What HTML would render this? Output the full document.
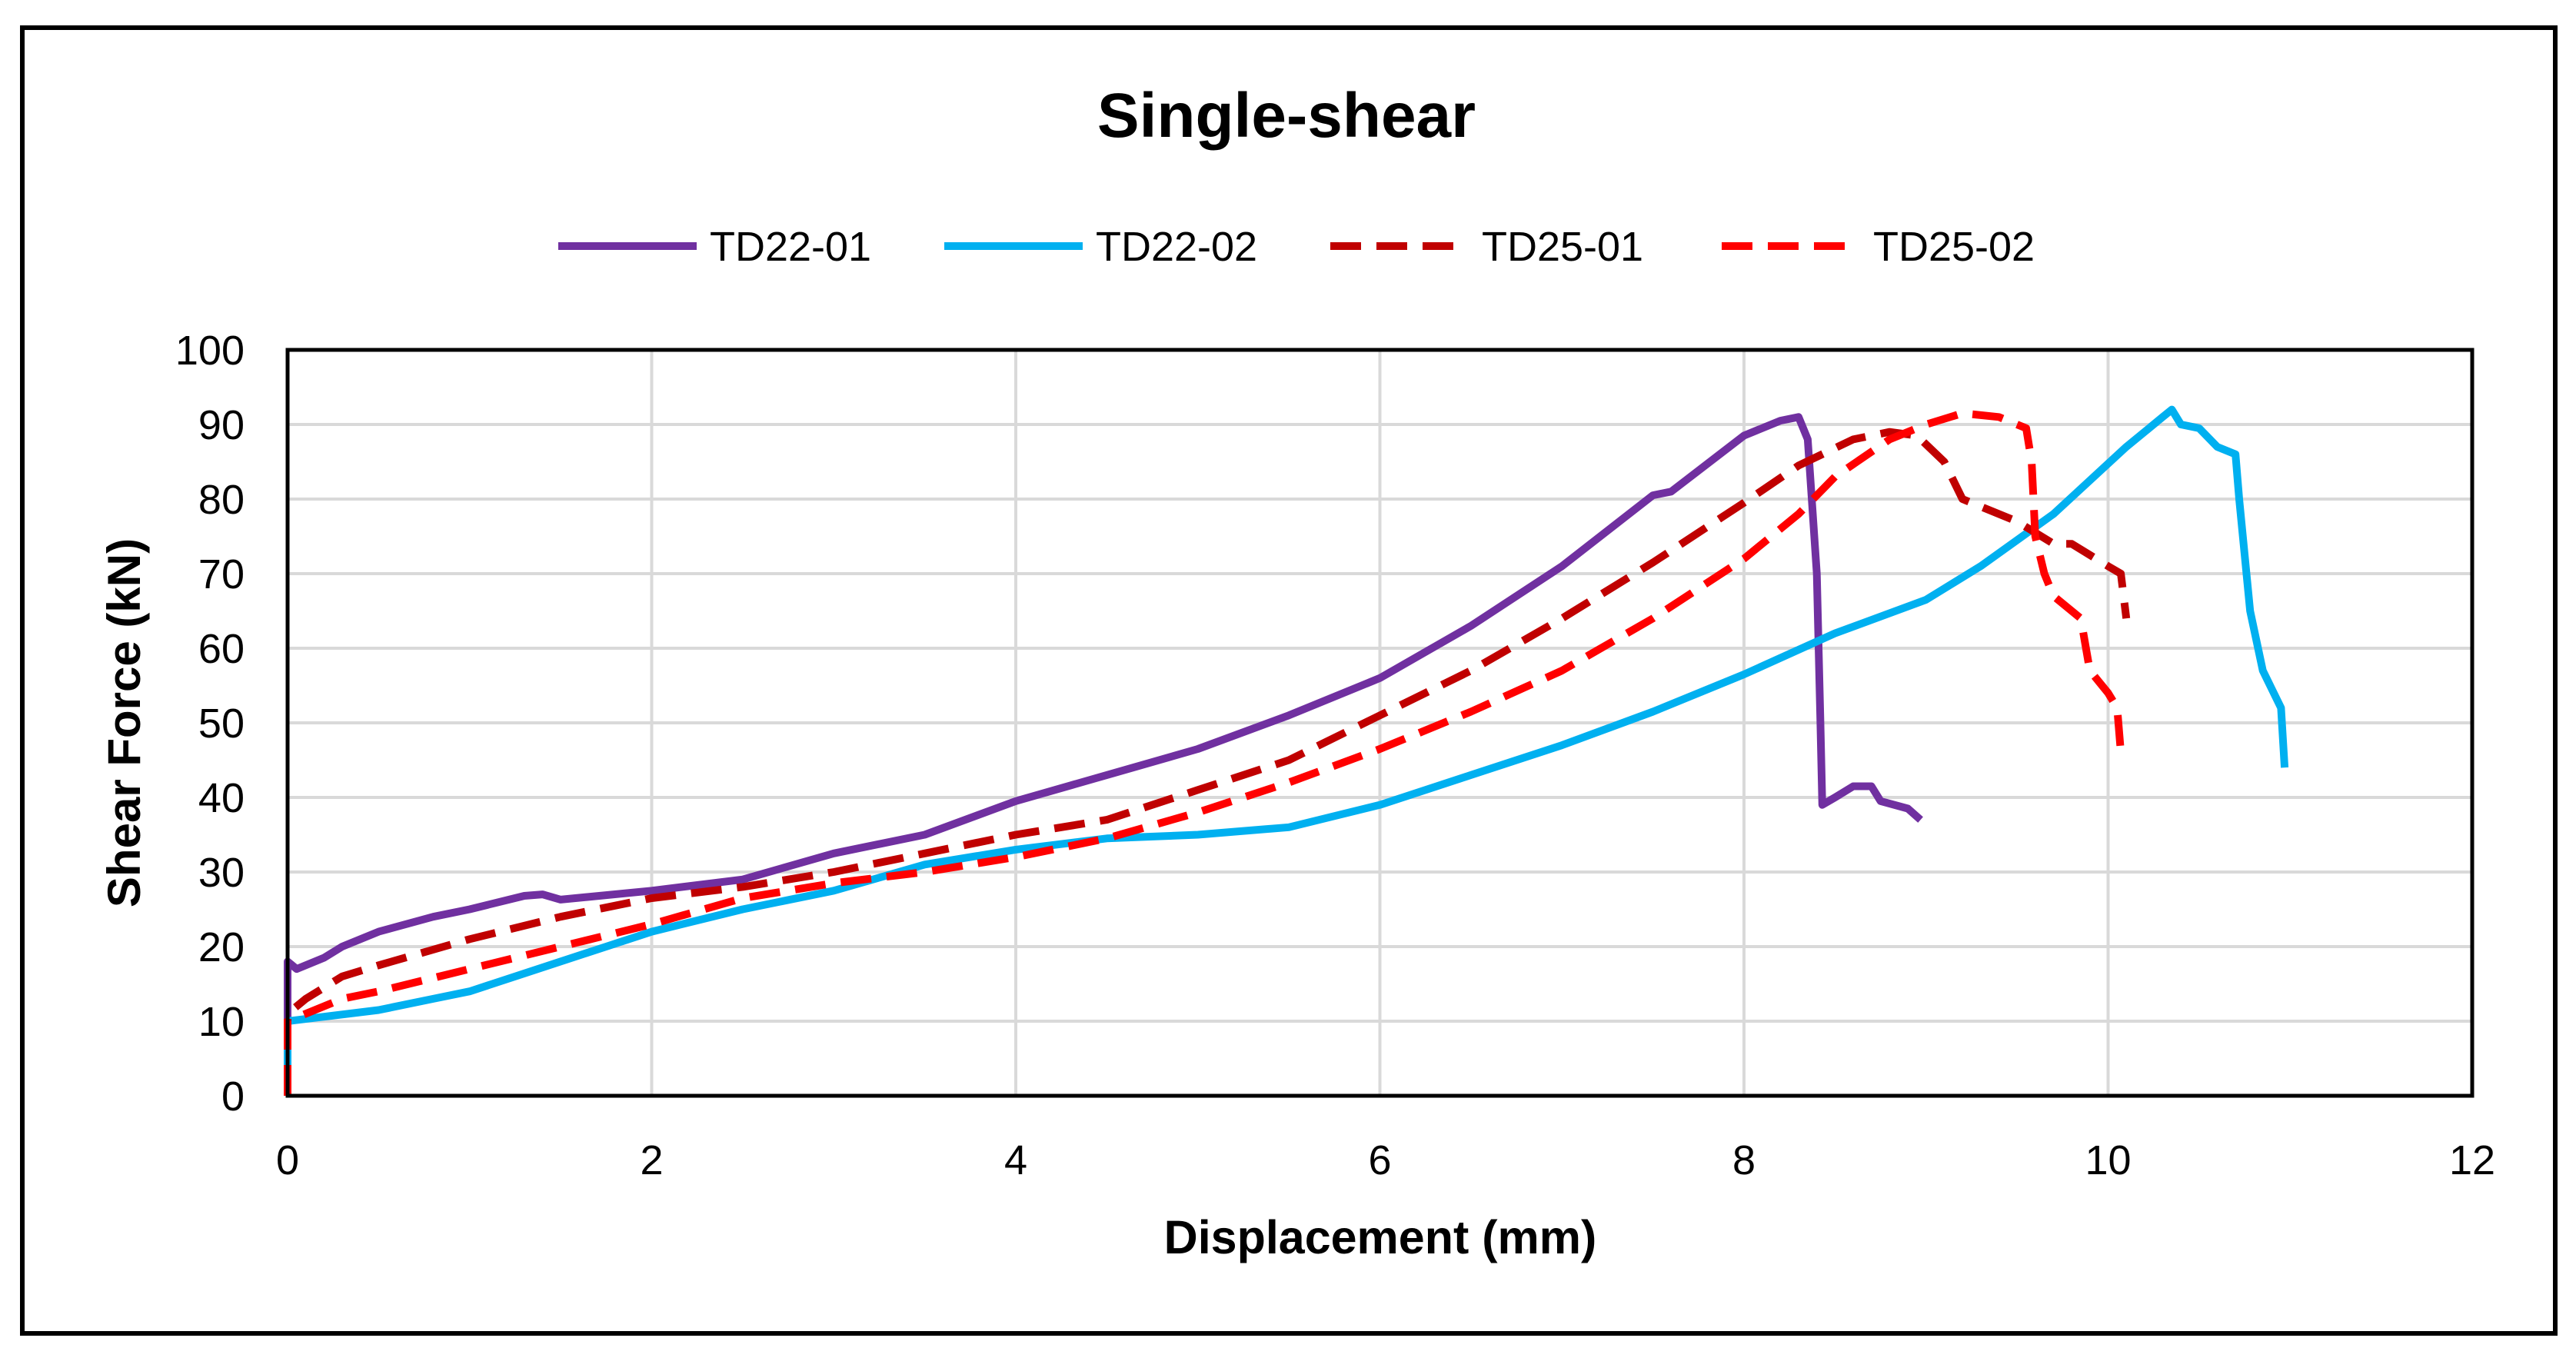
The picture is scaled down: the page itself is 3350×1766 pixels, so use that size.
<!DOCTYPE html>
<html><head><meta charset="utf-8"><style>
body{margin:0;background:#fff}
svg{display:block;font-family:"Liberation Sans",Calibri,sans-serif}
</style></head><body>
<svg id="chart" width="3350" height="1766" viewBox="0 0 3350 1766">
<rect x="0" y="0" width="3350" height="1766" fill="#fff"/>
<rect x="29" y="36" width="3294" height="1698" fill="none" stroke="#000" stroke-width="6"/>
<text x="1673" y="178" text-anchor="middle" font-size="82" font-weight="bold">Single-shear</text>
<g id="legend"></g>
<g id="grid"></g>
<g id="series"></g>
<rect x="374" y="455" width="2841" height="970" fill="none" stroke="#000" stroke-width="5"/>
<g id="ticks"></g>
<text x="1795" y="1630" text-anchor="middle" font-size="61" font-weight="bold">Displacement (mm)</text>
<text transform="translate(182,940) rotate(-90)" text-anchor="middle" font-size="60" font-weight="bold">Shear Force (kN)</text>
</svg>
<script>
const xTicks=[0,2,4,6,8,10,12];
const yTicks=[0,10,20,30,40,50,60,70,80,90,100];
const seriesNames=["TD22-01","TD22-02","TD25-01","TD25-02"];
const td2201X=[0,0,0.05,0.2,0.3,0.5,0.8,1,1.3,1.4,1.5,2,2.5,3,3.5,4,4.5,5,5.5,6,6.5,7,7.5,7.6,8,8.2,8.3,8.35,8.4,8.42,8.43,8.5,8.6,8.7,8.75,8.9,8.97];
const td2201Y=[0,18,17,18.5,20,22,24,25,26.8,27,26.3,27.5,29,32.5,35,39.5,43,46.5,51,56,63,71,80.5,81,88.5,90.5,91,88,70,50,39,40,41.5,41.5,39.5,38.5,37];
const td2202X=[0,0,0.5,0.8,1,1.5,2,2.5,3,3.5,4,4.5,5,5.5,6,6.5,7,7.5,8,8.5,9,9.3,9.7,10.1,10.3,10.35,10.4,10.5,10.6,10.7,10.72,10.78,10.85,10.95,10.97];
const td2202Y=[0,10,11.5,13,14,18,22,25,27.5,31,33,34.5,35,36,39,43,47,51.5,56.5,62,66.5,71,78,87,91,92,90,89.5,87,86,80,65,57,52,44];
const td2501X=[0,0,0.1,0.3,0.5,1,1.5,2,2.5,3,3.5,4,4.5,5,5.5,6,6.5,7,7.5,8,8.3,8.6,8.8,8.95,9.1,9.2,9.5,9.7,9.8,10,10.07,10.1];
const td2501Y=[0,11,13,16,17.5,21,24,26.5,28,30,32.5,35,37,41,45,51,57,64,71.5,79.5,84.5,88,89,88.5,85,80,77,74,74,71,70,64];
const td2502X=[0,0,0.3,0.5,1,1.5,2,2.5,3,3.5,4,4.5,5,5.5,6,6.5,7,7.5,8,8.3,8.5,8.8,9,9.2,9.4,9.55,9.58,9.6,9.65,9.7,9.85,9.9,10,10.05,10.07];
const td2502Y=[0,10,13,14,17,20,23,26.5,28.5,30,32,34.5,38,42,46.5,51.5,57,64,72,78,83,88,90,91.5,91,89.5,85,75,70,67,64,57,54,52,46];
const NS="http://www.w3.org/2000/svg";
const X0=374,X1=3215,Y0=1425,Y1=455;
function sx(v){return X0+(v-0)/(12-0)*(X1-X0);}
function sy(v){return Y0-(v-0)/(100-0)*(Y0-Y1);}
function mk(tag,parent,attrs){const e=document.createElementNS(NS,tag);for(const k in attrs)e.setAttribute(k,attrs[k]);parent.appendChild(e);return e;}
const grid=document.getElementById('grid'),ticks=document.getElementById('ticks');
xTicks.forEach(t=>{
  if(t>0&&t<12){const l=mk('line',grid,{x1:sx(t),x2:sx(t),y1:Y1,y2:Y0,stroke:'#d9d9d9','stroke-width':4});
  
  }
  const tx=mk('text',ticks,{x:sx(t),y:1527,'text-anchor':'middle','font-size':54});
  tx.textContent=t;
  
  
});
yTicks.forEach(t=>{
  if(t>0&&t<100){const l=mk('line',grid,{x1:X0,x2:X1,y1:sy(t),y2:sy(t),stroke:'#d9d9d9','stroke-width':4});
  
  }
  const tx=mk('text',ticks,{x:318,y:sy(t)+19,'text-anchor':'end','font-size':54});
  tx.textContent=t;
  
  
});
const styles=[{c:'#7030a0',d:''},{c:'#00b0f0',d:''},{c:'#c00000',d:'40 20'},{c:'#ff0000',d:'40 20'}];
const data=[[td2201X,td2201Y],[td2202X,td2202Y],[td2501X,td2501Y],[td2502X,td2502Y]];
const sg=document.getElementById('series');
data.forEach((s,i)=>{
  const pts=s[0].map((x,j)=>sx(x).toFixed(1)+','+sy(s[1][j]).toFixed(1)).join(' ');
  const p=mk('polyline',sg,{points:pts,fill:'none',stroke:styles[i].c,'stroke-width':10,'stroke-linejoin':'round','stroke-dasharray':styles[i].d||'none'});
  
  
});
const lg=document.getElementById('legend');
const lx=[726,1228,1730,2239];
seriesNames.forEach((n,i)=>{
  const l=mk('line',lg,{x1:lx[i],x2:lx[i]+180,y1:320,y2:320,stroke:styles[i].c,'stroke-width':10,'stroke-dasharray':styles[i].d||'none'});
  
  
  const t=mk('text',lg,{x:lx[i]+197,y:339,'font-size':54});
  t.textContent=n;
  
  
});
</script>
</body></html>
